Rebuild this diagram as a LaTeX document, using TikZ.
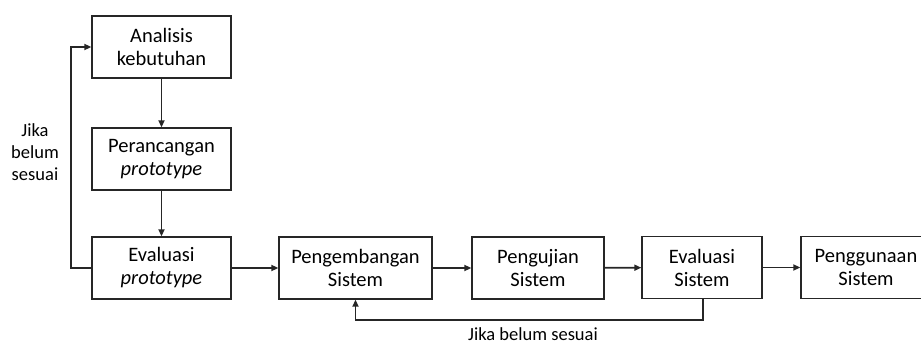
\documentclass[tikz,border=0pt]{standalone}
\usepackage{fontspec}
\setmainfont{Carlito}
\usetikzlibrary{arrows.meta}
\begin{document}
\begin{tikzpicture}[x=1pt,y=-1pt,
  box/.style={draw=black!85,line width=1.3pt,minimum height=62pt,inner sep=0pt,align=center,
    font=\fontsize{20.5}{23}\selectfont},
  conn/.style={line width=1.6pt,draw=black!85,-{Triangle[length=7pt,width=6pt]}},
  lbl/.style={align=center,font=\fontsize{18.5}{22}\selectfont}]
\clip (0,0) rectangle (921,345);
\useasboundingbox (0,0) rectangle (921,345);
\node[box,minimum width=139pt] (a) at (161.5,47) {Analisis\\kebutuhan};
\node[box,minimum width=139pt] (p) at (161.5,159) {Perancangan\\\textit{prototype}};
\node[box,minimum width=139pt] (e) at (161.5,268) {Evaluasi\\\textit{prototype}};
\node[box,minimum width=153pt] (d) at (355.5,268) {Pengembangan\\Sistem};
\node[box,minimum width=132pt] (u) at (538,268) {Pengujian\\Sistem};
\node[box,minimum width=120pt] (s) at (702,267.5) {Evaluasi\\Sistem};
\node[box,minimum width=130pt] (g) at (866,267.5) {Penggunaan\\Sistem};
\coordinate (lx) at (71,268);
\coordinate (by) at (703,320);
\draw[conn] (a) -- (p);
\draw[conn] (p) -- (e);
\draw[conn] (e) -- (d);
\draw[conn] (d) -- (u);
\draw[conn] (u) -- (s);
\draw[conn] (s) -- (g);
\draw[conn] (e.west) -- (lx) |- (a.west);
\draw[conn] (s.south -| by) -- (by) -| (d.south);
\node[lbl] (l1) at (35,152) {Jika\\belum\\sesuai};
\node[lbl] (l2) at (533,334) {Jika belum sesuai};
\end{tikzpicture}
\end{document}
